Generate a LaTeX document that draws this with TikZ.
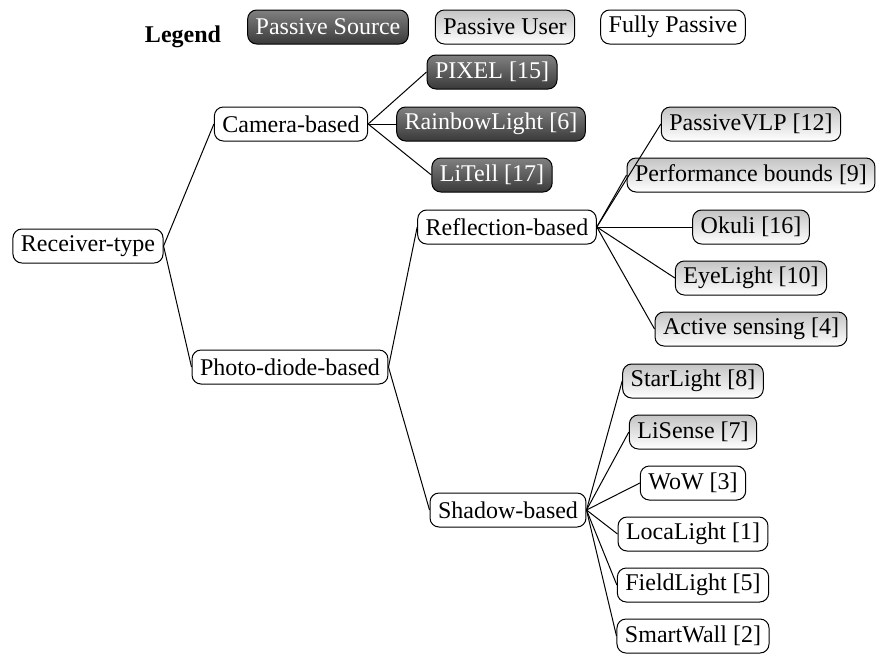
\documentclass[tikz,border=0pt]{standalone}
\usepackage{fontspec}
\setmainfont{Liberation Serif}
\usetikzlibrary{positioning}
\definecolor{srctop}{RGB}{128,128,128}
\definecolor{srcbot}{RGB}{58,58,58}
\definecolor{usrtop}{RGB}{196,196,196}

\begin{document}
\begin{tikzpicture}[x=0.5pt,y=0.5pt,font=\fontsize{12}{14}\selectfont,
  item/.style={draw,rounded corners=4.5pt,minimum height=17pt,inner xsep=4pt,
               inner ysep=2pt,line width=0.5pt,fill=white},
  src/.style={item,top color=srctop,bottom color=srcbot,text=white},
  usr/.style={item,top color=usrtop,bottom color=white},
  full/.style={item},
  edge/.style={draw,line width=0.5pt}]
\useasboundingbox (0,0) rectangle (876,-653);
% legend
\node[font=\fontsize{12}{14}\selectfont\bfseries] (leg) at (183,-37) {Legend};
\node[src] (legsrc) at (328,-27) {Passive Source};
\node[usr] (legusr) at (505,-27) {Passive User};
\node[full] (legful) at (673,-27) {Fully Passive};
% tree
\node[full] (root) at (88,-246) {Receiver-type};
\node[full] (camera) at (291,-124) {Camera-based};
\node[full] (photo) at (290,-367) {Photo-diode-based};
\node[src] (pixel) at (492,-72) {PIXEL [15]};
\node[src] (rainbow) at (491,-124) {RainbowLight [6]};
\node[src] (litell) at (492,-175) {LiTell [17]};
\node[full] (reflect) at (507,-227) {Reflection-based};
\node[full] (shadow) at (508,-510) {Shadow-based};
\node[usr] (pvlp) at (751,-124) {PassiveVLP [12]};
\node[usr] (perf) at (751,-175) {Performance bounds [9]};
\node[usr] (okuli) at (751,-227) {Okuli [16]};
\node[usr] (eyelight) at (751,-278) {EyeLight [10]};
\node[usr] (active) at (751,-329) {Active sensing [4]};
\node[usr] (starlight) at (693,-381) {StarLight [8]};
\node[usr] (lisense) at (693,-432) {LiSense [7]};
\node[full] (wow) at (693,-483) {WoW [3]};
\node[full] (localight) at (693,-534) {LocaLight [1]};
\node[full] (fieldlight) at (693,-585) {FieldLight [5]};
\node[full] (smartwall) at (693,-636) {SmartWall [2]};
% edges
\foreach \c in {camera,photo} \draw[edge] (root.east)--(\c.west);
\foreach \c in {pixel,rainbow,litell} \draw[edge] (camera.east)--(\c.west);
\foreach \c in {reflect,shadow} \draw[edge] (photo.east)--(\c.west);
\foreach \c in {pvlp,perf,okuli,eyelight,active} \draw[edge] (reflect.east)--(\c.west);
\foreach \c in {starlight,lisense,wow,localight,fieldlight,smartwall}
  \draw[edge] (shadow.east)--(\c.west);
\end{tikzpicture}
\end{document}
